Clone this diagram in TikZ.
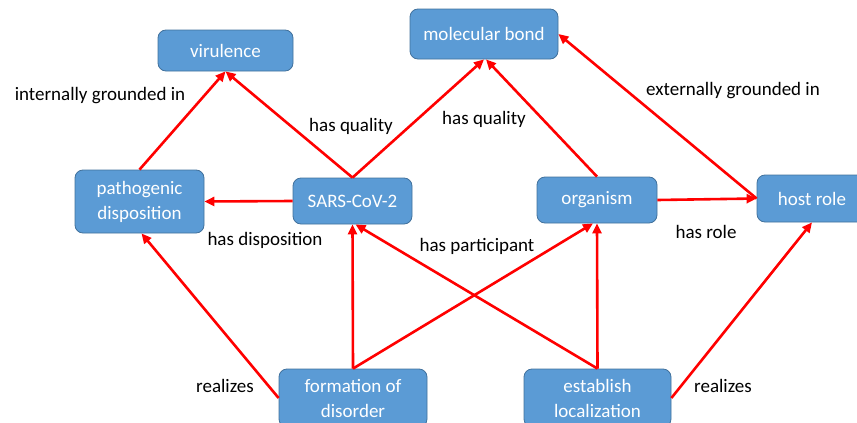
\documentclass[tikz,border=0pt]{standalone}
\usepackage{fontspec}
\setmainfont{Carlito}
\usetikzlibrary{arrows.meta}
\definecolor{boxfill}{HTML}{5B9BD5}
\definecolor{boxline}{HTML}{41719C}
\tikzset{
  concept/.style={draw=boxline, fill=boxfill, line width=0.8pt, rounded corners=8pt,
    text=white, inner sep=0pt, align=center, font=\fontsize{19}{25}\selectfont},
  rel/.style={draw=red, line width=2.6pt, -{Triangle[length=10pt,width=9pt]}},
  lbl/.style={text=black, inner sep=0pt, font=\fontsize{19}{23}\selectfont}
}
\begin{document}
\begin{tikzpicture}[x=1pt,y=-1pt]
\useasboundingbox (0,0) rectangle (857,423);
\clip (0,0) rectangle (857,423);
\node[concept, minimum width=135pt, minimum height=41pt] (vir) at (225.5,50.5) {virulence};
\node[concept, minimum width=148pt, minimum height=50pt] (mol) at (484,34) {molecular bond};
\node[concept, minimum width=129pt, minimum height=63pt] (pat) at (139.5,201.5) {pathogenic\\disposition};
\node[concept, minimum width=119pt, minimum height=46pt] (sars) at (352.5,201) {SARS-CoV-2};
\node[concept, minimum width=120pt, minimum height=46pt] (org) at (597,200) {organism};
\node[concept, minimum width=110pt, minimum height=47pt] (host) at (812,198.5) {host role};
\node[concept, minimum width=148pt, minimum height=58pt] (form) at (353,398) {formation of\\disorder};
\node[concept, minimum width=147pt, minimum height=58pt] (est) at (597.5,398) {establish\\localization};

\draw[rel] (pat.north) -- (vir.south);
\draw[rel] (sars.north) -- (vir.south);
\draw[rel] (sars.north) -- (mol.south);
\draw[rel] (org.north) -- ([xshift=2pt]mol.south);
\draw[rel] (host.west) -- (mol.east);
\draw[rel] (sars.west) -- (pat.east);
\draw[rel] (org.east) -- (host.west);
\draw[rel] (form.north) -- (sars.south);
\draw[rel] (form.north) -- ([xshift=-4pt]org.south);
\draw[rel] (est.north) -- ([xshift=3pt]sars.south);
\draw[rel] (est.north) -- (org.south);
\draw[rel] (form.west) -- ([xshift=2pt]pat.south);
\draw[rel] (est.east) -- (host.south);

\node[lbl] (l1) at (100,96) {internally grounded in};
\node[lbl] (l2) at (351,126) {has quality};
\node[lbl] (l3) at (484,119) {has quality};
\node[lbl] (l4) at (733,91) {externally grounded in};
\node[lbl] (l5) at (265,240) {has disposition};
\node[lbl] (l6) at (477,246) {has participant};
\node[lbl] (l7) at (706,232) {has role};
\node[lbl] (l8) at (225,386) {realizes};
\node[lbl] (l9) at (723,386) {realizes};
\end{tikzpicture}
\end{document}
